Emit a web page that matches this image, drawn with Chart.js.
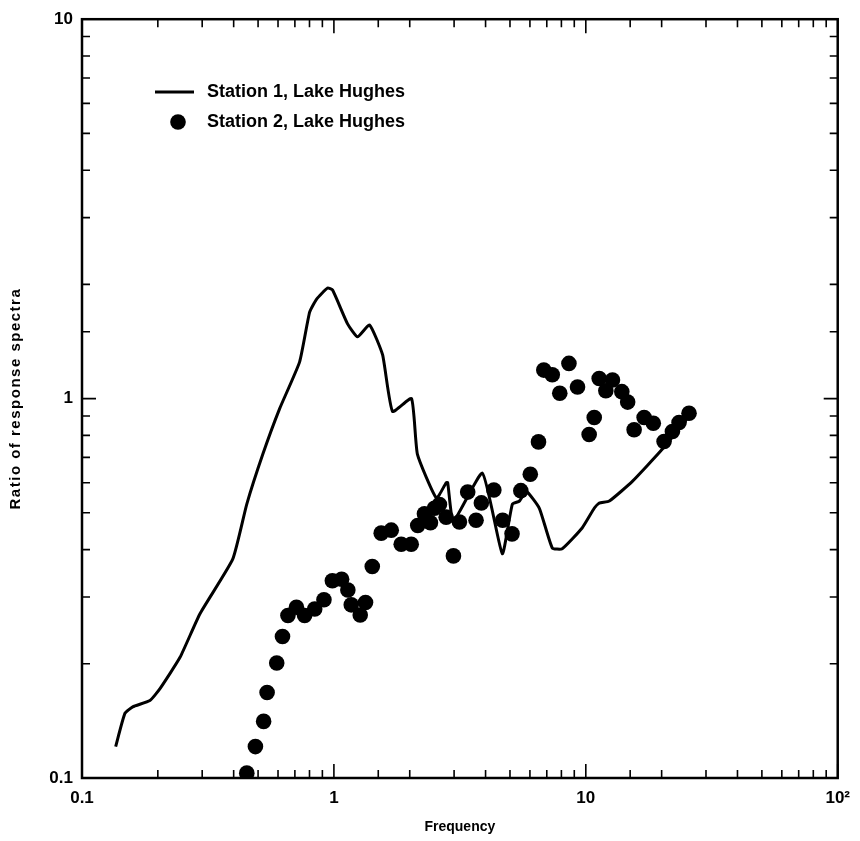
<!DOCTYPE html>
<html>
<head>
<meta charset="utf-8">
<script src="https://cdn.jsdelivr.net/npm/chart.js@4"></script>
<style>
  body { margin: 0; background: #fff; }
  #wrap { width: 860px; height: 841px; position: relative; }
</style>
</head>
<body>
<div id="wrap"><canvas id="chart"></canvas></div>
<script>
// Station 1 (solid line)
const freq1 = [0.136, 0.148, 0.159, 0.186, 0.204, 0.245, 0.294, 0.397, 0.451, 0.522, 0.609, 0.731, 0.801, 0.854, 0.944, 0.988,
  1.133, 1.241, 1.385, 1.56, 1.709, 2.032, 2.146, 2.553, 2.79, 2.83, 2.98, 3.886, 4.66, 5.11, 5.45, 5.80, 6.54, 7.36, 8.06,
  9.67, 10.8, 11.3, 12.4, 15.3, 20.1, 26.4];
const ratio1 = [0.121, 0.148, 0.154, 0.160, 0.172, 0.208, 0.271, 0.378, 0.527, 0.713, 0.941, 1.25, 1.69, 1.83, 1.956, 1.932,
  1.574, 1.455, 1.564, 1.305, 0.925, 1.0, 0.713, 0.547, 0.60, 0.60, 0.475, 0.636, 0.39, 0.527, 0.537, 0.570, 0.514, 0.404, 0.402,
  0.456, 0.514, 0.530, 0.537, 0.605, 0.735, 0.919];

// Station 2 (dots)
const freq2 = [0.451, 0.488, 0.526, 0.543, 0.593, 0.625, 0.657, 0.710, 0.765, 0.839, 0.913, 0.986, 1.073, 1.136, 1.172, 1.272,
  1.335, 1.420, 1.541, 1.689, 1.850, 2.027, 2.152, 2.288, 2.417, 2.507, 2.624, 2.790, 2.982, 3.150, 3.397, 3.667, 3.849, 4.315,
  4.675, 5.095, 5.521, 6.020, 6.489, 6.811, 7.360, 7.882, 8.571, 9.270, 10.31, 10.80, 11.30, 12.01, 12.76, 13.90, 14.66, 15.55,
  17.04, 18.53, 20.45, 22.07, 23.45, 25.69];
const ratio2 = [0.103, 0.121, 0.141, 0.168, 0.201, 0.236, 0.268, 0.282, 0.268, 0.279, 0.295, 0.331, 0.334, 0.313, 0.286, 0.269,
  0.290, 0.361, 0.442, 0.450, 0.413, 0.413, 0.463, 0.497, 0.471, 0.514, 0.526, 0.487, 0.385, 0.473, 0.567, 0.478, 0.531, 0.574,
  0.478, 0.440, 0.572, 0.632, 0.769, 1.189, 1.156, 1.033, 1.238, 1.073, 0.804, 0.892, 1.130, 1.049, 1.120, 1.043, 0.979, 0.828,
  0.892, 0.861, 0.771, 0.819, 0.865, 0.915];

const xTickValues = [0.1, 1, 10, 100];
const xTickLabels = ['0.1', '1', '10', '10²'];
const yTickValues = [0.1, 1, 10];
const yTickLabels = ['0.1', '1', '10'];

const seriesNames = ['Station 1, Lake Hughes', 'Station 2, Lake Hughes'];
const xTitle = 'Frequency';
const yTitle = 'Ratio of response spectra';

const findLabel = (vals, labels, v) => {
  const i = vals.findIndex(t => Math.abs(Math.log10(t) - Math.log10(v)) < 1e-6);
  return i < 0 ? '' : labels[i];
};

const FONT = '"Liberation Sans", Arial, sans-serif';

// frame, inward ticks, legend and axis titles
const framePlugin = {
  id: 'frame',
  afterDraw(chart) {
    const { ctx, chartArea: a, scales: { x, y } } = chart;
    ctx.save();
    ctx.strokeStyle = '#000';
    ctx.lineWidth = 2.5;
    ctx.strokeRect(a.left, a.top, a.right - a.left, a.bottom - a.top);

    ctx.lineWidth = 1.6;
    x.ticks.forEach(t => {
      const px = x.getPixelForValue(t.value);
      const len = t.label ? 14 : 8;
      ctx.beginPath();
      ctx.moveTo(px, a.bottom); ctx.lineTo(px, a.bottom - len);
      ctx.moveTo(px, a.top); ctx.lineTo(px, a.top + len);
      ctx.stroke();
    });
    y.ticks.forEach(t => {
      const py = y.getPixelForValue(t.value);
      const len = t.label ? 14 : 8;
      ctx.beginPath();
      ctx.moveTo(a.left, py); ctx.lineTo(a.left + len, py);
      ctx.moveTo(a.right, py); ctx.lineTo(a.right - len, py);
      ctx.stroke();
    });

    // legend
    ctx.fillStyle = '#000';
    ctx.font = 'bold 18px ' + FONT;
    ctx.textBaseline = 'middle';
    ctx.lineWidth = 3;
    ctx.beginPath();
    ctx.moveTo(155, 92); ctx.lineTo(194, 92);
    ctx.stroke();
    ctx.fillText(seriesNames[0], 207, 92);
    ctx.beginPath();
    ctx.arc(178, 122, 7.8, 0, Math.PI * 2);
    ctx.fill();
    ctx.fillText(seriesNames[1], 207, 122);

    // axis titles
    ctx.font = 'bold 14px ' + FONT;
    ctx.textAlign = 'center';
    ctx.fillText(xTitle, (a.left + a.right) / 2, 827);
    ctx.save();
    ctx.translate(16, (a.top + a.bottom) / 2);
    ctx.rotate(-Math.PI / 2);
    ctx.font = 'bold 15px ' + FONT;
    ctx.letterSpacing = '1.5px';
    ctx.fillText(yTitle, 0, 0);
    ctx.restore();
    ctx.restore();
  }
};

new Chart(document.getElementById('chart'), {
  type: 'scatter',
  data: {
    datasets: [
      {
        label: seriesNames[0],
        data: freq1.map((f, i) => ({ x: f, y: ratio1[i] })),
        showLine: true,
        borderColor: '#000',
        borderWidth: 3,
        pointRadius: 0,
        tension: 0.15,
        fill: false
      },
      {
        label: seriesNames[1],
        data: freq2.map((f, i) => ({ x: f, y: ratio2[i] })),
        showLine: false,
        backgroundColor: '#000',
        borderColor: '#000',
        pointRadius: 7.8,
        pointBorderWidth: 0
      }
    ]
  },
  options: {
    responsive: true,
    maintainAspectRatio: false,
    animation: false,
    layout: { padding: { top: 16, right: 18, left: 0, bottom: 0 } },
    plugins: { legend: { display: false }, tooltip: { enabled: false } },
    scales: {
      x: {
        type: 'logarithmic',
        min: 0.1,
        max: 100,
        grid: { display: false, drawTicks: false },
        border: { display: false },
        ticks: {
          color: '#000',
          font: { family: FONT, size: 17, weight: 'bold' },
          padding: 10,
          autoSkip: false,
          maxRotation: 0,
          callback: v => findLabel(xTickValues, xTickLabels, v)
        },
        afterFit: s => { s.height = 63; }
      },
      y: {
        type: 'logarithmic',
        min: 0.1,
        max: 10,
        grid: { display: false, drawTicks: false },
        border: { display: false },
        ticks: {
          color: '#000',
          font: { family: FONT, size: 17, weight: 'bold' },
          padding: 9,
          autoSkip: false,
          callback: v => findLabel(yTickValues, yTickLabels, v)
        },
        afterFit: s => { s.width = 82; }
      }
    }
  },
  plugins: [framePlugin]
});
</script>
</body>
</html>
